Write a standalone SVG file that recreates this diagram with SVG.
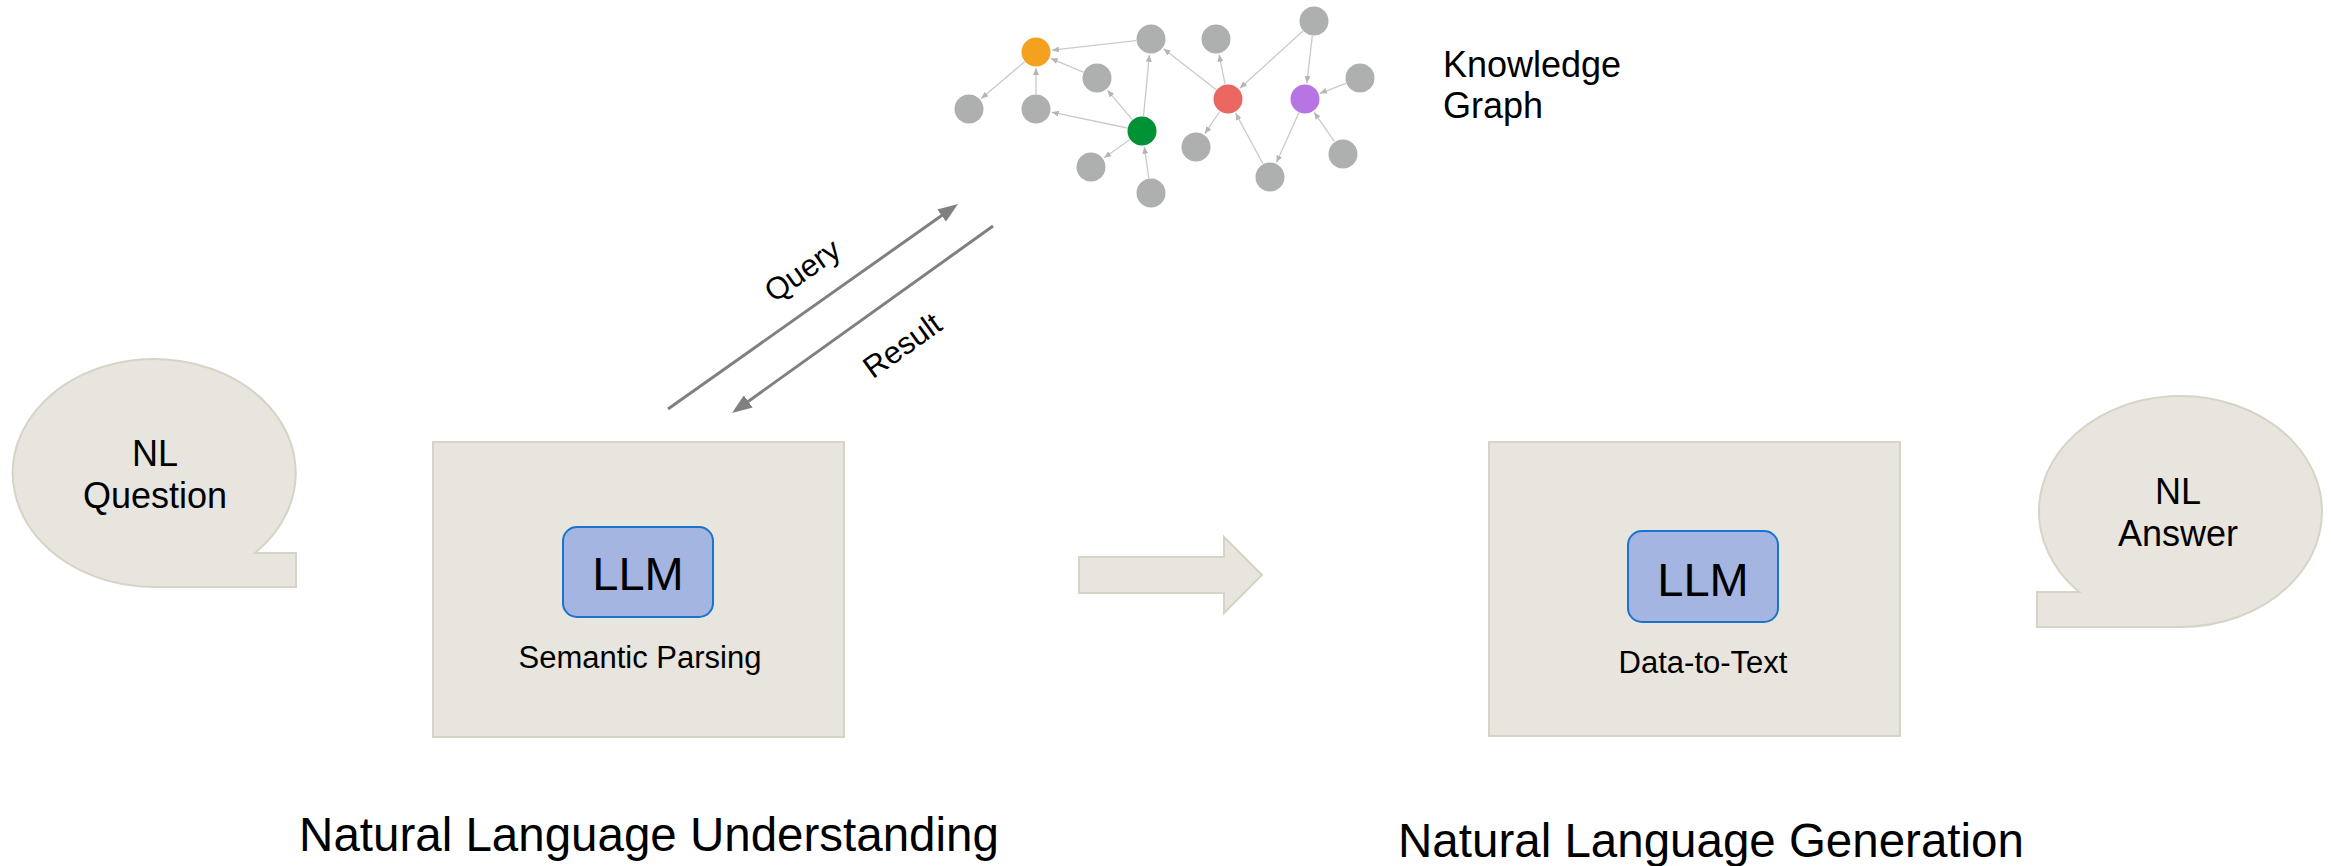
<svg xmlns="http://www.w3.org/2000/svg" width="2331" height="866" viewBox="0 0 2331 866">
<defs>
<style>
text{font-family:"Liberation Sans",Arial,sans-serif;fill:#000}
.shape{fill:#e7e5de;stroke:#d6d3c7;stroke-width:2}
.llm{fill:#a3b5e0;stroke:#1a73cc;stroke-width:2}
.kg{stroke:#cacaca;stroke-width:1.3;fill:none;marker-end:url(#sa)}
.gn{fill:#adb0af}
.main{stroke:#808080;stroke-width:3;fill:none;marker-end:url(#ba)}
</style>
<marker id="sa" markerUnits="userSpaceOnUse" markerWidth="7" markerHeight="6" refX="7" refY="3" orient="auto"><path d="M0,0 L7,3 L0,6 z" fill="#b5b5b5"/></marker>
<marker id="ba" markerUnits="userSpaceOnUse" markerWidth="20" markerHeight="15" refX="4" refY="7.5" orient="auto"><path d="M0,0 L20,7.5 L0,15 z" fill="#808080"/></marker>
</defs>
<rect width="2331" height="866" fill="#fff"/>

<g id="connectors">
<line class="main" x1="668" y1="409" x2="944.9" y2="213.2"/>
<line class="main" x1="993" y1="226" x2="745" y2="403.7"/>
<text transform="translate(802,270) rotate(-35.3)" text-anchor="middle" y="11" font-size="31">Query</text>
<text transform="translate(902,345) rotate(-35.6)" text-anchor="middle" y="11" font-size="31">Result</text>
<polygon id="flow-arrow" class="shape" points="1079,557 1224,557 1224,537 1262,575 1224,613 1224,593 1079,593"/>
</g>

<g id="nl-question">
<path class="shape" d="M255,553 A141.5 114 0 1 0 154.5,587 L296,587 L296,553 Z"/>
<text x="155" y="466" text-anchor="middle" font-size="36">NL</text>
<text x="155" y="508" text-anchor="middle" font-size="36">Question</text>
</g>

<g id="nlu-box">
<rect class="shape" x="433" y="442" width="411" height="295"/>
<rect class="llm" x="563" y="527" width="150" height="90" rx="14"/>
<text x="638" y="590" text-anchor="middle" font-size="47">LLM</text>
<text x="640" y="668" text-anchor="middle" font-size="31">Semantic Parsing</text>
</g>

<g id="nlg-box">
<rect class="shape" x="1489" y="442" width="411" height="294"/>
<rect class="llm" x="1628" y="531" width="150" height="91" rx="14"/>
<text x="1703" y="596" text-anchor="middle" font-size="47">LLM</text>
<text x="1703" y="673" text-anchor="middle" font-size="31">Data-to-Text</text>
</g>

<g id="nl-answer">
<path class="shape" d="M2079,592 A141.5 115.5 0 1 1 2178.5,627 L2037,627 L2037,592 Z"/>
<text x="2178" y="504" text-anchor="middle" font-size="36">NL</text>
<text x="2178" y="546" text-anchor="middle" font-size="36">Answer</text>
</g>

<g id="knowledge-graph">
<g id="kg-edges">
<line class="kg" x1="1136.1" y1="40.7" x2="1051.9" y2="50.2"/>
<line class="kg" x1="1083.2" y1="72.1" x2="1050.7" y2="58.3"/>
<line class="kg" x1="1036" y1="94" x2="1036" y2="68"/>
<line class="kg" x1="1024.6" y1="61.7" x2="981.2" y2="98.6"/>
<line class="kg" x1="1127.3" y1="128" x2="1051.7" y2="112.2"/>
<line class="kg" x1="1132.3" y1="119.6" x2="1107.4" y2="90.2"/>
<line class="kg" x1="1143.5" y1="116.1" x2="1149.4" y2="54.9"/>
<line class="kg" x1="1129.7" y1="139.7" x2="1104.1" y2="157.8"/>
<line class="kg" x1="1148.8" y1="178.1" x2="1144.3" y2="146.8"/>
<line class="kg" x1="1216.2" y1="89.8" x2="1163.6" y2="48.8"/>
<line class="kg" x1="1225.1" y1="84.3" x2="1219.1" y2="54.7"/>
<line class="kg" x1="1302.9" y1="31.1" x2="1239.9" y2="88.2"/>
<line class="kg" x1="1312.3" y1="35.9" x2="1306.8" y2="83.1"/>
<line class="kg" x1="1219.7" y1="111.5" x2="1204.9" y2="133.7"/>
<line class="kg" x1="1262.9" y1="163.8" x2="1235.6" y2="113.1"/>
<line class="kg" x1="1346" y1="83.4" x2="1319.9" y2="93.3"/>
<line class="kg" x1="1298.9" y1="112.7" x2="1276.5" y2="162.4"/>
<line class="kg" x1="1334.5" y1="141.7" x2="1314.1" y2="112.2"/>
</g>
<g id="kg-nodes">
<circle cx="1036" cy="52" r="14.5" fill="#f4a11f"/>
<circle class="gn" cx="1151" cy="39" r="14.5"/>
<circle class="gn" cx="1216" cy="39" r="14.5"/>
<circle class="gn" cx="1314" cy="21" r="14.5"/>
<circle class="gn" cx="1097" cy="78" r="14.5"/>
<circle cx="1228" cy="99" r="14.5" fill="#ea6760"/>
<circle cx="1305" cy="99" r="14.5" fill="#b774e3"/>
<circle class="gn" cx="1360" cy="78" r="14.5"/>
<circle class="gn" cx="969" cy="109" r="14.5"/>
<circle class="gn" cx="1036" cy="109" r="14.5"/>
<circle cx="1142" cy="131" r="14.5" fill="#029236"/>
<circle class="gn" cx="1196" cy="147" r="14.5"/>
<circle class="gn" cx="1091" cy="167" r="14.5"/>
<circle class="gn" cx="1151" cy="193" r="14.5"/>
<circle class="gn" cx="1270" cy="177" r="14.5"/>
<circle class="gn" cx="1343" cy="154" r="14.5"/>
</g>
<text x="1443" y="77" font-size="36">Knowledge</text>
<text x="1443" y="118" font-size="36">Graph</text>
</g>

<g id="section-labels">
<text x="649" y="851" text-anchor="middle" font-size="47.5">Natural Language Understanding</text>
<text x="1711" y="857" text-anchor="middle" font-size="47.5">Natural Language Generation</text>
</g>
</svg>
